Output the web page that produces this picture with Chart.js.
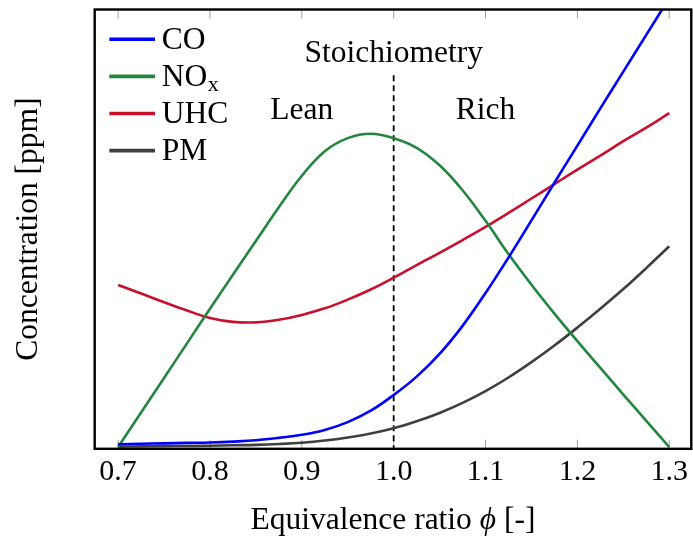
<!DOCTYPE html>
<html>
<head>
<meta charset="utf-8">
<script src="https://cdn.jsdelivr.net/npm/chart.js@4/dist/chart.umd.min.js"></script>
<style>
  html, body { margin: 0; padding: 0; background: #ffffff; }
  canvas { display: block; }
</style>
</head>
<body>
<canvas id="chart" width="693" height="538"></canvas>
<script>
// Equivalence ratio samples
const phi = [0.7, 0.725, 0.75, 0.775, 0.8, 0.825, 0.85, 0.875, 0.9, 0.925, 0.95, 0.975,
             1.0, 1.025, 1.05, 1.075, 1.1, 1.125, 1.15, 1.175, 1.2, 1.225, 1.25, 1.275, 1.3];

// Emission concentrations (arbitrary ppm scale)
const co  = [0.65, 0.75, 0.85, 0.95, 1.05, 1.25, 1.55, 2.1, 2.8, 3.9, 5.7, 8.3,
             11.9, 16.1, 21.3, 27.7, 35.2, 43.3, 51.8, 60.4, 68.9, 77.4, 85.8, 94.2, 102.6];
const nox = [0, 7.9, 15.8, 23.7, 31.6, 39.4, 47.1, 54.8, 62.0, 67.6, 70.6, 71.6,
             70.6, 68.4, 64.4, 58.7, 51.7, 44.1, 37.1, 30.5, 24.2, 18.1, 12.0, 6.0, 0];
const uhc = [37.05, 35.1, 33.1, 31.2, 29.5, 28.6, 28.5, 29.1, 30.2, 31.7, 33.7, 36.0,
             38.7, 41.6, 44.4, 47.3, 50.3, 53.5, 56.8, 60.1, 63.4, 66.6, 69.9, 73.0, 76.3];
const pm  = [0.1, 0.15, 0.2, 0.25, 0.3, 0.4, 0.5, 0.7, 1.0, 1.5, 2.2, 3.1,
             4.3, 5.9, 7.8, 10.1, 12.8, 15.9, 19.4, 23.2, 27.3, 31.6, 36.1, 40.9, 45.9];

const seriesNames  = ['CO', 'NO_x', 'UHC', 'PM'];
const seriesColors = ['#0000ff', '#23863f', '#c8102e', '#3f3f3f'];

// Axis ticks
const xTickValues = [0.7, 0.8, 0.9, 1.0, 1.1, 1.2, 1.3];

// Stoichiometric divider and region captions
const stoichPhi = 1.0;
const stoichTop = 85;
const captions = ['Stoichiometry', 'Lean', 'Rich'];
const captionPhi = [1.0, 0.9, 1.1];
const captionLevel = [88.1, 74.9, 74.9];

const FONT = '"Liberation Serif", "Times New Roman", serif';
const TEXT_SIZE = 31.5;
const Y_MIN = -0.4, Y_MAX = 100;

const toPoints = ys => phi.map((p, i) => ({ x: p, y: ys[i] }));
const curve = (i, ys) => ({
  label: seriesNames[i],
  data: toPoints(ys),
  borderColor: seriesColors[i],
  backgroundColor: seriesColors[i],
  borderWidth: 2.6,
  pointRadius: 0,
  tension: 0.4,
  fill: false
});

// Inner tick marks on top and bottom edges
const innerTicks = {
  id: 'innerTicks',
  beforeDatasetsDraw(chart) {
    const { ctx, chartArea: a, scales: { x } } = chart;
    ctx.save();
    ctx.strokeStyle = '#a0a0a0';
    ctx.lineWidth = 1;
    xTickValues.forEach(v => {
      const px = x.getPixelForValue(v);
      ctx.beginPath();
      ctx.moveTo(px, a.top); ctx.lineTo(px, a.top + 9);
      ctx.moveTo(px, a.bottom); ctx.lineTo(px, a.bottom - 9);
      ctx.stroke();
    });
    ctx.restore();
  }
};

// Frame, legend, captions and x-axis title
const overlay = {
  id: 'overlay',
  afterDatasetsDraw(chart) {
    const { ctx, chartArea: a, scales: { x, y } } = chart;
    const mainFont = TEXT_SIZE + 'px ' + FONT;
    ctx.save();

    // plot frame
    ctx.strokeStyle = '#000';
    ctx.lineWidth = 2.4;
    ctx.strokeRect(a.left, a.top, a.right - a.left, a.bottom - a.top);

    // region captions
    ctx.fillStyle = '#000';
    ctx.font = mainFont;
    ctx.textAlign = 'center';
    ctx.textBaseline = 'alphabetic';
    captions.forEach((t, i) => {
      ctx.fillText(t, x.getPixelForValue(captionPhi[i]), y.getPixelForValue(captionLevel[i]));
    });

    // legend
    ctx.textAlign = 'left';
    chart.data.datasets.forEach((ds, i) => {
      if (i >= seriesNames.length) return;
      const rowY = a.top + 29.8 + i * 37.1;
      ctx.strokeStyle = ds.borderColor;
      ctx.lineWidth = 3.6;
      ctx.beginPath();
      ctx.moveTo(a.left + 14.6, rowY);
      ctx.lineTo(a.left + 60.3, rowY);
      ctx.stroke();
      const [main, sub] = ds.label.split('_');
      const tx = a.left + 67;
      ctx.font = mainFont;
      ctx.fillText(main, tx, rowY + 9.5);
      if (sub) {
        const w = ctx.measureText(main).width;
        ctx.font = '22px ' + FONT;
        ctx.fillText(sub, tx + w + 0.5, rowY + 14.5);
      }
    });

    // x-axis title with italic phi
    const parts = [
      { t: 'Equivalence ratio ', f: mainFont },
      { t: '\u03D5', f: 'italic ' + mainFont },
      { t: ' [-]', f: mainFont }
    ];
    let total = 0;
    parts.forEach(p => { ctx.font = p.f; p.w = ctx.measureText(p.t).width; total += p.w; });
    let cx = (a.left + a.right) / 2 - total / 2;
    const base = 529.3;
    parts.forEach(p => { ctx.font = p.f; ctx.fillText(p.t, cx, base); cx += p.w; });

    ctx.restore();
  }
};

new Chart(document.getElementById('chart'), {
  type: 'line',
  data: {
    datasets: [
      curve(0, co),
      curve(1, nox),
      curve(2, uhc),
      curve(3, pm),
      {
        label: 'stoichiometry',
        data: [{ x: stoichPhi, y: stoichTop }, { x: stoichPhi, y: Y_MIN }],
        borderColor: '#000',
        borderWidth: 1.8,
        borderDash: [6, 4],
        pointRadius: 0,
        tension: 0,
        fill: false
      }
    ]
  },
  options: {
    responsive: false,
    animation: false,
    devicePixelRatio: 1,
    layout: { padding: { top: 9.5, right: 0.5, bottom: 0, left: 0 } },
    plugins: { legend: { display: false }, tooltip: { enabled: false } },
    scales: {
      x: {
        type: 'linear',
        min: 0.6745,
        max: 1.324,
        grid: { display: false, drawTicks: false },
        border: { display: false },
        afterBuildTicks: s => { s.ticks = xTickValues.map(v => ({ value: v })); },
        afterFit: s => { s.height = 538 - 448.8; },
        ticks: {
          autoSkip: false,
          maxRotation: 0,
          padding: 5,
          color: '#000',
          font: { family: FONT, size: 30 },
          callback: v => Number(v).toFixed(1)
        }
      },
      y: {
        type: 'linear',
        min: Y_MIN,
        max: Y_MAX,
        grid: { display: false, drawTicks: false },
        border: { display: false },
        ticks: { display: false },
        afterFit: s => { s.width = 94.7; },
        title: {
          display: true,
          text: 'Concentration [ppm]',
          color: '#000',
          font: { family: FONT, size: TEXT_SIZE },
          padding: { top: 10, bottom: 0 }
        }
      }
    }
  },
  plugins: [innerTicks, overlay]
});
</script>
</body>
</html>
